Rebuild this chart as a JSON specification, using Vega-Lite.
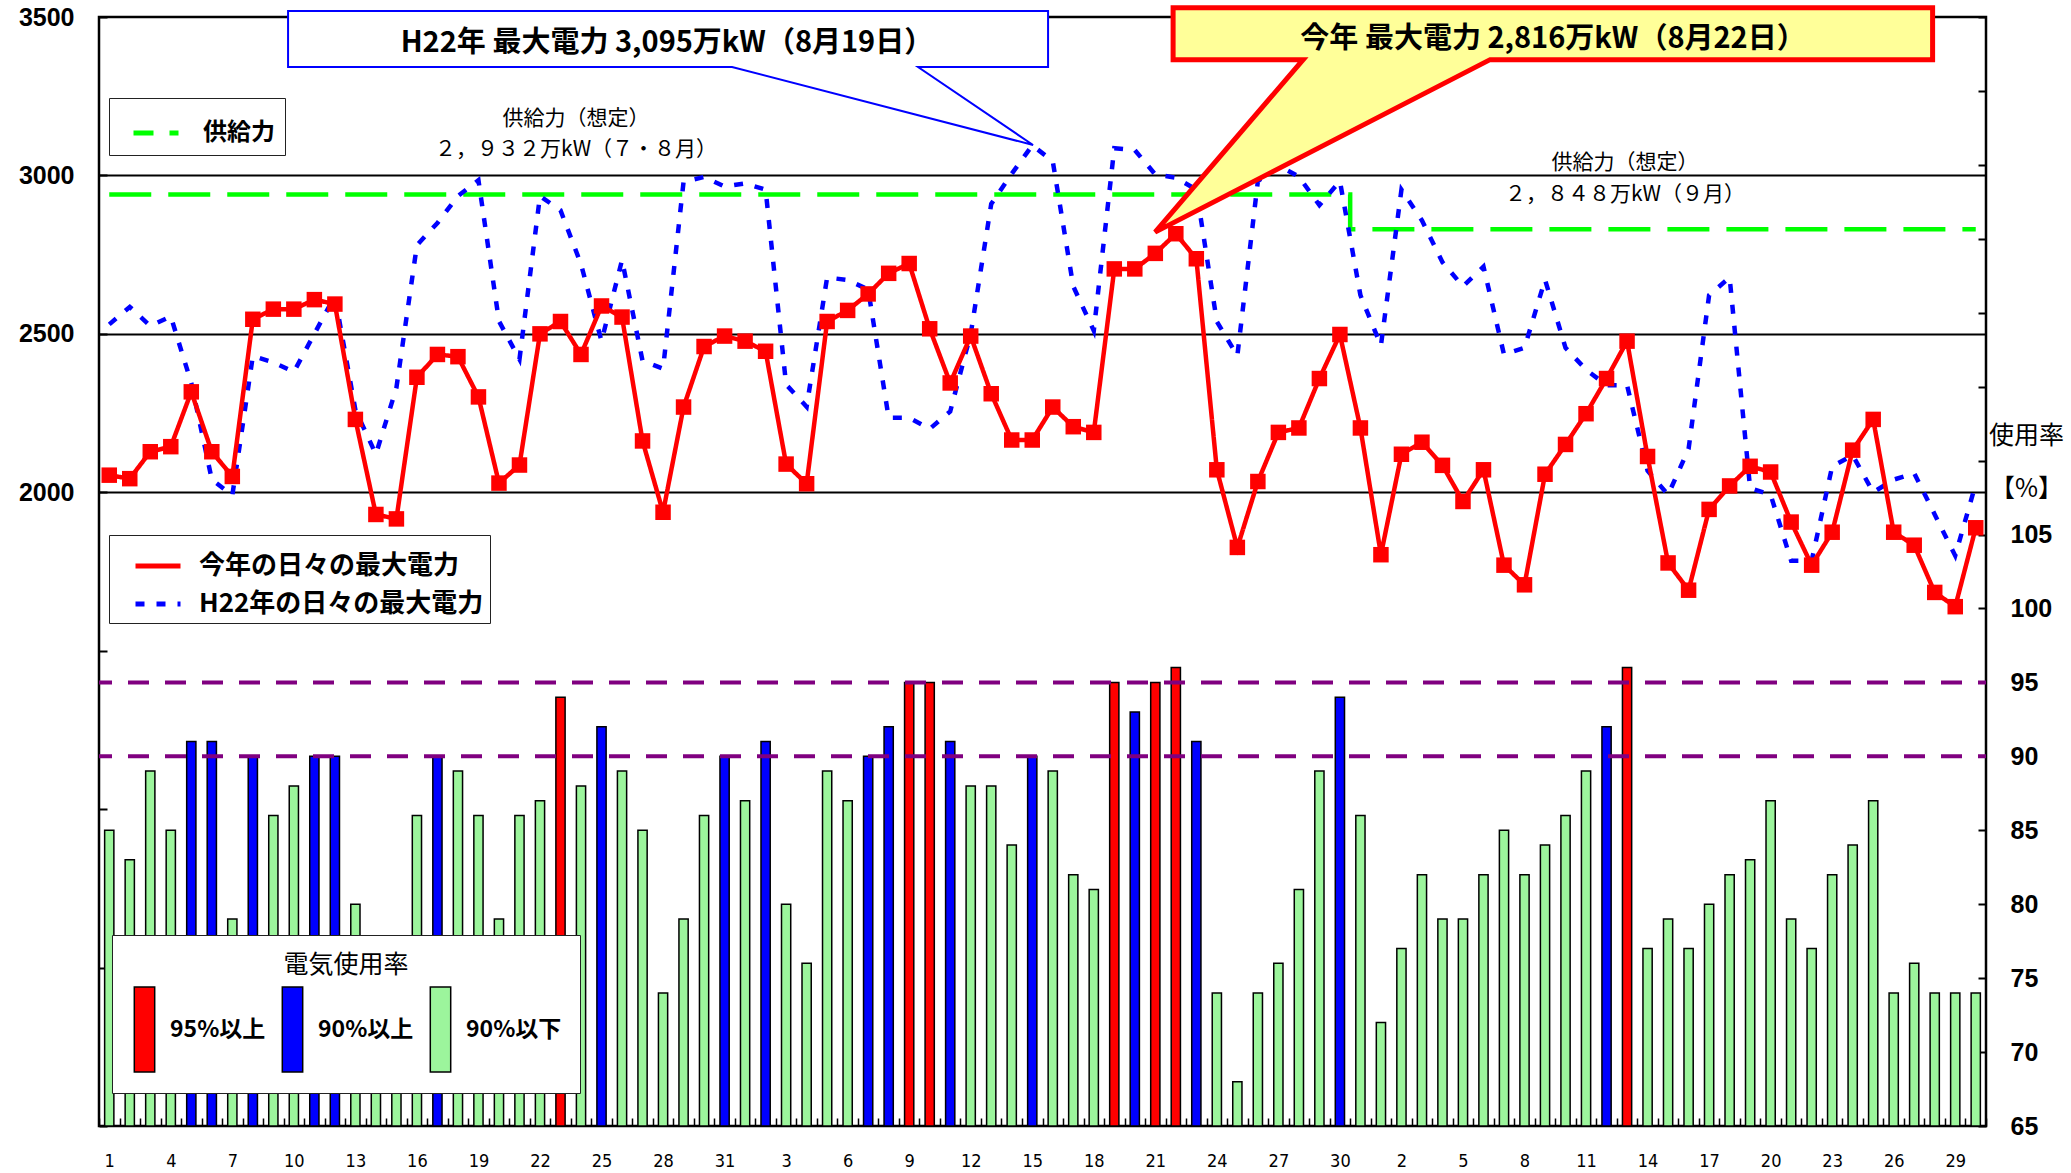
{
  "$schema": "https://vega.github.io/schema/vega-lite/v6.json",
  "width": 1887,
  "height": 1109,
  "autosize": "none",
  "padding": {"left": 99, "top": 17, "right": 85, "bottom": 47},
  "background": "white",
  "config": {
    "view": {"stroke": "black", "strokeWidth": 2.5},
    "font": "Noto Sans CJK JP",
    "axis": {"labelColor": "black", "tickColor": "black", "titleColor": "black"},
    "legend": {"labelColor": "black", "titleColor": "black"}
  },
  "data": {"name": "days"},
  "datasets": {
    "days": [
      {"i":0,"now":2054,"h22":2530,"pct":85,"cat":"90%以下","sup":2940},
      {"i":1,"now":2043,"h22":2585,"pct":83,"cat":"90%以下","sup":2940},
      {"i":2,"now":2128,"h22":2525,"pct":89,"cat":"90%以下","sup":2940},
      {"i":3,"now":2144,"h22":2555,"pct":85,"cat":"90%以下","sup":2940},
      {"i":4,"now":2317,"h22":2345,"pct":91,"cat":"90%以上","sup":2940},
      {"i":5,"now":2128,"h22":2040,"pct":91,"cat":"90%以上","sup":2940},
      {"i":6,"now":2050,"h22":1990,"pct":79,"cat":"90%以下","sup":2940},
      {"i":7,"now":2546,"h22":2430,"pct":90,"cat":"90%以上","sup":2940},
      {"i":8,"now":2578,"h22":2410,"pct":86,"cat":"90%以下","sup":2940},
      {"i":9,"now":2578,"h22":2380,"pct":88,"cat":"90%以下","sup":2940},
      {"i":10,"now":2608,"h22":2500,"pct":90,"cat":"90%以上","sup":2940},
      {"i":11,"now":2594,"h22":2620,"pct":90,"cat":"90%以上","sup":2940},
      {"i":12,"now":2230,"h22":2260,"pct":80,"cat":"90%以下","sup":2940},
      {"i":13,"now":1930,"h22":2120,"pct":75,"cat":"90%以下","sup":2940},
      {"i":14,"now":1916,"h22":2330,"pct":74,"cat":"90%以下","sup":2940},
      {"i":15,"now":2363,"h22":2780,"pct":86,"cat":"90%以下","sup":2940},
      {"i":16,"now":2435,"h22":2850,"pct":90,"cat":"90%以上","sup":2940},
      {"i":17,"now":2428,"h22":2935,"pct":89,"cat":"90%以下","sup":2940},
      {"i":18,"now":2301,"h22":2985,"pct":86,"cat":"90%以下","sup":2940},
      {"i":19,"now":2029,"h22":2540,"pct":79,"cat":"90%以下","sup":2940},
      {"i":20,"now":2086,"h22":2420,"pct":86,"cat":"90%以下","sup":2940},
      {"i":21,"now":2500,"h22":2935,"pct":87,"cat":"90%以下","sup":2940},
      {"i":22,"now":2539,"h22":2890,"pct":94,"cat":"95%以上","sup":2940},
      {"i":23,"now":2435,"h22":2720,"pct":88,"cat":"90%以下","sup":2940},
      {"i":24,"now":2588,"h22":2477,"pct":92,"cat":"90%以上","sup":2940},
      {"i":25,"now":2553,"h22":2733,"pct":89,"cat":"90%以下","sup":2940},
      {"i":26,"now":2162,"h22":2415,"pct":85,"cat":"90%以下","sup":2940},
      {"i":27,"now":1937,"h22":2390,"pct":74,"cat":"90%以下","sup":2940},
      {"i":28,"now":2269,"h22":2980,"pct":79,"cat":"90%以下","sup":2940},
      {"i":29,"now":2460,"h22":2995,"pct":86,"cat":"90%以下","sup":2940},
      {"i":30,"now":2493,"h22":2965,"pct":90,"cat":"90%以上","sup":2940},
      {"i":31,"now":2477,"h22":2975,"pct":87,"cat":"90%以下","sup":2940},
      {"i":32,"now":2445,"h22":2955,"pct":91,"cat":"90%以上","sup":2940},
      {"i":33,"now":2089,"h22":2340,"pct":80,"cat":"90%以下","sup":2940},
      {"i":34,"now":2027,"h22":2270,"pct":76,"cat":"90%以下","sup":2940},
      {"i":35,"now":2539,"h22":2678,"pct":89,"cat":"90%以下","sup":2940},
      {"i":36,"now":2574,"h22":2670,"pct":87,"cat":"90%以下","sup":2940},
      {"i":37,"now":2626,"h22":2640,"pct":90,"cat":"90%以上","sup":2940},
      {"i":38,"now":2691,"h22":2235,"pct":92,"cat":"90%以上","sup":2940},
      {"i":39,"now":2722,"h22":2235,"pct":95,"cat":"95%以上","sup":2940},
      {"i":40,"now":2516,"h22":2200,"pct":95,"cat":"95%以上","sup":2940},
      {"i":41,"now":2345,"h22":2255,"pct":91,"cat":"90%以上","sup":2940},
      {"i":42,"now":2493,"h22":2500,"pct":88,"cat":"90%以下","sup":2940},
      {"i":43,"now":2311,"h22":2910,"pct":88,"cat":"90%以下","sup":2940},
      {"i":44,"now":2165,"h22":3005,"pct":84,"cat":"90%以下","sup":2940},
      {"i":45,"now":2165,"h22":3095,"pct":90,"cat":"90%以上","sup":2940},
      {"i":46,"now":2269,"h22":3045,"pct":89,"cat":"90%以下","sup":2940},
      {"i":47,"now":2207,"h22":2650,"pct":82,"cat":"90%以下","sup":2940},
      {"i":48,"now":2189,"h22":2510,"pct":81,"cat":"90%以下","sup":2940},
      {"i":49,"now":2705,"h22":3086,"pct":95,"cat":"95%以上","sup":2940},
      {"i":50,"now":2705,"h22":3080,"pct":93,"cat":"90%以上","sup":2940},
      {"i":51,"now":2754,"h22":3003,"pct":95,"cat":"95%以上","sup":2940},
      {"i":52,"now":2816,"h22":2993,"pct":96,"cat":"95%以上","sup":2940},
      {"i":53,"now":2737,"h22":2955,"pct":91,"cat":"90%以上","sup":2940},
      {"i":54,"now":2071,"h22":2539,"pct":74,"cat":"90%以下","sup":2940},
      {"i":55,"now":1826,"h22":2431,"pct":68,"cat":"90%以下","sup":2940},
      {"i":56,"now":2034,"h22":2982,"pct":74,"cat":"90%以下","sup":2940},
      {"i":57,"now":2189,"h22":3031,"pct":76,"cat":"90%以下","sup":2940},
      {"i":58,"now":2203,"h22":2996,"pct":81,"cat":"90%以下","sup":2940},
      {"i":59,"now":2359,"h22":2906,"pct":89,"cat":"90%以下","sup":2940},
      {"i":60,"now":2498,"h22":2982,"pct":94,"cat":"90%以上","sup":2940},
      {"i":61,"now":2203,"h22":2622,"pct":86,"cat":"90%以下","sup":2830},
      {"i":62,"now":1803,"h22":2463,"pct":72,"cat":"90%以下","sup":2830},
      {"i":63,"now":2120,"h22":2955,"pct":77,"cat":"90%以下","sup":2830},
      {"i":64,"now":2158,"h22":2858,"pct":82,"cat":"90%以下","sup":2830},
      {"i":65,"now":2085,"h22":2726,"pct":79,"cat":"90%以下","sup":2830},
      {"i":66,"now":1971,"h22":2650,"pct":79,"cat":"90%以下","sup":2830},
      {"i":67,"now":2071,"h22":2712,"pct":82,"cat":"90%以下","sup":2830},
      {"i":68,"now":1770,"h22":2435,"pct":85,"cat":"90%以下","sup":2830},
      {"i":69,"now":1708,"h22":2456,"pct":82,"cat":"90%以下","sup":2830},
      {"i":70,"now":2057,"h22":2671,"pct":84,"cat":"90%以下","sup":2830},
      {"i":71,"now":2151,"h22":2456,"pct":86,"cat":"90%以下","sup":2830},
      {"i":72,"now":2248,"h22":2387,"pct":89,"cat":"90%以下","sup":2830},
      {"i":73,"now":2359,"h22":2338,"pct":92,"cat":"90%以上","sup":2830},
      {"i":74,"now":2477,"h22":2338,"pct":96,"cat":"95%以上","sup":2830},
      {"i":75,"now":2113,"h22":2068,"pct":77,"cat":"90%以下","sup":2830},
      {"i":76,"now":1777,"h22":1992,"pct":79,"cat":"90%以下","sup":2830},
      {"i":77,"now":1691,"h22":2137,"pct":77,"cat":"90%以下","sup":2830},
      {"i":78,"now":1946,"h22":2622,"pct":80,"cat":"90%以下","sup":2830},
      {"i":79,"now":2020,"h22":2678,"pct":82,"cat":"90%以下","sup":2830},
      {"i":80,"now":2082,"h22":2013,"pct":83,"cat":"90%以下","sup":2830},
      {"i":81,"now":2064,"h22":1992,"pct":87,"cat":"90%以下","sup":2830},
      {"i":82,"now":1906,"h22":1784,"pct":79,"cat":"90%以下","sup":2830},
      {"i":83,"now":1770,"h22":1784,"pct":77,"cat":"90%以下","sup":2830},
      {"i":84,"now":1874,"h22":2082,"pct":82,"cat":"90%以下","sup":2830},
      {"i":85,"now":2133,"h22":2117,"pct":84,"cat":"90%以下","sup":2830},
      {"i":86,"now":2230,"h22":2000,"pct":87,"cat":"90%以下","sup":2830},
      {"i":87,"now":1874,"h22":2040,"pct":74,"cat":"90%以下","sup":2830},
      {"i":88,"now":1833,"h22":2060,"pct":76,"cat":"90%以下","sup":2830},
      {"i":89,"now":1684,"h22":1930,"pct":74,"cat":"90%以下","sup":2830},
      {"i":90,"now":1639,"h22":1800,"pct":74,"cat":"90%以下","sup":2830},
      {"i":91,"now":1888,"h22":2027,"pct":74,"cat":"90%以下","sup":2830}
    ]
  },
  "layer": [
    {
      "layer": [
        {
          "mark": {"type": "bar", "width": {"band": 0.45}, "stroke": "black", "strokeWidth": 1.5},
          "encoding": {
            "x": {
              "field": "i", "type": "ordinal",
              "scale": {"paddingInner": 0, "paddingOuter": 0},
              "axis": {
                "orient": "bottom", "title": null, "domain": false, "grid": false,
                "labelAngle": 0,
                "labelExpr": "datum.value % 3 == 0 ? (datum.value < 31 ? datum.value + 1 : (datum.value < 62 ? datum.value - 30 : datum.value - 61)) : ''",
                "tickBand": "extent", "tickSize": -8, "tickWidth": 1.5, "tickColor": "black",
                "labelFont": "Liberation Sans Narrow, DejaVu Sans Condensed, sans-serif",
                "labelFontSize": 18, "labelPadding": 34, "labelBaseline": "top",
                "labelOverlap": false, "labelFlush": false
              }
            },
            "y": {
              "field": "pct", "type": "quantitative",
              "scale": {"domain": [65, 140], "zero": false, "nice": false},
              "axis": {
                "orient": "right", "values": [65,70,75,80,85,90,95,100,105,110,115,120,125,130,135,140],
                "format": "d", "labelExpr": "datum.value <= 105 ? datum.label : ''",
                "domain": false, "grid": false, "tickSize": -8, "tickWidth": 2, "tickColor": "black",
                "labelFont": "Liberation Sans", "labelFontSize": 25, "labelFontWeight": "bold",
                "labelPadding": 32, "labelFlush": false, "labelOverlap": false,
                "title": ["使用率", "【%】"], "titleAngle": 0, "titleX": 40, "titleY": 406,
                "titleAlign": "center", "titleBaseline": "top", "titleFontSize": 25,
                "titleFontWeight": "normal", "titleFont": "Noto Sans CJK JP", "titleLineHeight": 53
              }
            },
            "y2": {"datum": 65},
            "fill": {
              "field": "cat", "type": "nominal",
              "scale": {"domain": ["95%以上", "90%以上", "90%以下"], "range": ["#ff0000", "#0000ff", "#9cf59c"]},
              "legend": {
                "title": "電気使用率", "orient": "none", "legendX": 13, "legendY": 918,
                "direction": "horizontal", "titleAnchor": "middle", "titleFontSize": 25,
                "titleFontWeight": "normal", "titleFont": "Noto Sans CJK JP", "titlePadding": 8,
                "labelFontSize": 23, "labelFontWeight": "bold", "labelFont": "Noto Sans CJK JP",
                "symbolType": "M-0.24,-1H0.24V1H-0.24Z", "symbolSize": 7225,
                "symbolStrokeColor": "black", "symbolStrokeWidth": 1.5, "symbolOpacity": 1,
                "symbolOffset": -29, "labelOffset": -18, "columnPadding": 12, "padding": 18,
                "fillColor": "white", "strokeColor": "#222222"
              }
            }
          }
        },
        {
          "data": {"values": [{"lv": 90}, {"lv": 95}]},
          "mark": {"type": "rule", "color": "#800080", "strokeWidth": 4, "strokeDash": [21, 16], "strokeDashOffset": 13},
          "encoding": {
            "y": {"field": "lv", "type": "quantitative", "scale": {"domain": [65, 140], "zero": false, "nice": false}}
          }
        }
      ]
    },
    {
      "layer": [
        {
          "transform": [{"fold": ["sup"], "as": ["sk", "sv"]}],
          "mark": {"type": "line", "interpolate": "step", "strokeWidth": 4.5, "strokeDash": [42, 17]},
          "encoding": {
            "x": {"field": "i", "type": "ordinal", "axis": null},
            "y": {
              "field": "sv", "type": "quantitative",
              "scale": {"domain": [0, 3500], "zero": false, "nice": false},
              "axis": {
                "orient": "left", "values": [0,500,1000,1500,2000,2500,3000,3500], "format": "d",
                "labelExpr": "datum.value >= 2000 ? datum.label : ''",
                "domain": false, "tickSize": -8, "tickWidth": 2, "tickColor": "black",
                "grid": true, "gridWidth": 2,
                "gridColor": {"condition": {"test": "datum.value >= 2000 && datum.value <= 3000", "value": "black"}, "value": "transparent"},
                "labelFont": "Liberation Sans", "labelFontSize": 25, "labelFontWeight": "bold",
                "labelPadding": 33, "labelFlush": false, "labelOverlap": false, "title": null
              }
            },
            "stroke": {
              "field": "sk", "type": "nominal",
              "scale": {"domain": ["sup"], "range": ["#00ff00"]},
              "legend": {
                "title": null, "orient": "none", "legendX": 10, "legendY": 81,
                "labelExpr": "'供給力'", "symbolType": "stroke", "symbolSize": 2025,
                "symbolStrokeWidth": 5, "symbolDash": [20, 16],
                "labelFontSize": 24, "labelFontWeight": "bold", "labelFont": "Noto Sans CJK JP",
                "symbolOffset": 12, "labelOffset": 22, "padding": 10,
                "fillColor": "white", "strokeColor": "#222222"
              }
            }
          }
        },
        {
          "transform": [{"fold": ["h22", "now"], "as": ["series", "mw"]}],
          "mark": {"type": "line", "strokeWidth": 4.5},
          "encoding": {
            "x": {"field": "i", "type": "ordinal", "axis": null},
            "y": {"field": "mw", "type": "quantitative"},
            "color": {
              "field": "series", "type": "nominal",
              "scale": {"domain": ["now", "h22"], "range": ["#ff0000", "#0000ff"]},
              "legend": {
                "title": null, "orient": "none", "legendX": 10, "legendY": 518,
                "labelExpr": "datum.value == 'now' ? '今年の日々の最大電力' : 'H22年の日々の最大電力'",
                "symbolType": "stroke", "symbolSize": 2025, "symbolStrokeWidth": 5,
                "labelFontSize": 26, "labelFontWeight": "bold", "labelFont": "Noto Sans CJK JP",
                "labelLimit": 500, "symbolOffset": 18, "labelOffset": 16, "padding": 6, "rowPadding": -3,
                "fillColor": "white", "strokeColor": "#222222"
              }
            },
            "strokeDash": {
              "field": "series", "type": "nominal",
              "scale": {"domain": ["now", "h22"], "range": [[1, 0], [9, 12]]},
              "legend": {
                "title": null, "orient": "none", "legendX": 10, "legendY": 518,
                "labelExpr": "datum.value == 'now' ? '今年の日々の最大電力' : 'H22年の日々の最大電力'",
                "symbolType": "stroke", "symbolSize": 2025, "symbolStrokeWidth": 5,
                "labelFontSize": 26, "labelFontWeight": "bold", "labelFont": "Noto Sans CJK JP",
                "labelLimit": 500, "symbolOffset": 18, "labelOffset": 16, "padding": 6, "rowPadding": -3,
                "fillColor": "white", "strokeColor": "#222222"
              }
            }
          }
        },
        {
          "mark": {"type": "point", "shape": "square", "filled": true, "size": 240, "color": "#ff0000", "opacity": 1},
          "encoding": {
            "x": {"field": "i", "type": "ordinal", "axis": null},
            "y": {"field": "now", "type": "quantitative"}
          }
        }
      ]
    },
    {
      "layer": [
        {
          "data": {"values": [{}]},
          "mark": {"type": "point", "shape": "M-745,-134H15V-78H-115L0,0L-301,-78H-745Z", "size": 4, "filled": true, "fill": "white", "stroke": "#0000ff", "strokeWidth": 2, "opacity": 1},
          "encoding": {
            "x": {"datum": 45.54, "type": "quantitative", "scale": {"domain": [0, 92], "zero": false, "nice": false}, "axis": null},
            "y": {"datum": 3096, "type": "quantitative", "scale": {"domain": [0, 3500], "zero": false, "nice": false}, "axis": null}
          }
        },
        {
          "data": {"values": [{}]},
          "mark": {"type": "point", "shape": "M18,-224.5H777.5V-172.5H335L0,0L148,-172.5H18Z", "size": 4, "filled": true, "fill": "#ffff99", "stroke": "#ff0000", "strokeWidth": 5, "opacity": 1},
          "encoding": {
            "x": {"datum": 51.49, "type": "quantitative"},
            "y": {"datum": 2821, "type": "quantitative"}
          }
        },
        {
          "data": {"values": [{}]},
          "mark": {"type": "text", "text": "H22年 最大電力 3,095万kW（8月19日）", "font": "Noto Sans CJK JP", "fontWeight": "bold", "fontSize": 29, "align": "center", "baseline": "middle", "color": "black"},
          "encoding": {
            "x": {"datum": 27.69, "type": "quantitative"},
            "y": {"datum": 3418, "type": "quantitative"}
          }
        },
        {
          "data": {"values": [{}]},
          "mark": {"type": "text", "text": "今年 最大電力 2,816万kW（8月22日）", "font": "Noto Sans CJK JP", "fontWeight": "bold", "fontSize": 29, "align": "center", "baseline": "middle", "color": "black"},
          "encoding": {
            "x": {"datum": 70.89, "type": "quantitative"},
            "y": {"datum": 3431, "type": "quantitative"}
          }
        },
        {
          "data": {"values": [{}]},
          "mark": {"type": "text", "text": "供給力（想定）\n２，９３２万kW（７・８月）", "lineBreak": "\n", "lineHeight": 31, "font": "Noto Sans CJK JP", "fontSize": 21, "align": "center", "baseline": "middle", "color": "black"},
          "encoding": {
            "x": {"datum": 23.26, "type": "quantitative"},
            "y": {"datum": 3178, "type": "quantitative"}
          }
        },
        {
          "data": {"values": [{}]},
          "mark": {"type": "text", "text": "供給力（想定）\n２，８４８万kW（９月）", "lineBreak": "\n", "lineHeight": 32, "font": "Noto Sans CJK JP", "fontSize": 21, "align": "center", "baseline": "middle", "color": "black"},
          "encoding": {
            "x": {"datum": 74.4, "type": "quantitative"},
            "y": {"datum": 3039, "type": "quantitative"}
          }
        }
      ]
    }
  ],
  "resolve": {"scale": {"x": "independent", "y": "independent"}}
}
